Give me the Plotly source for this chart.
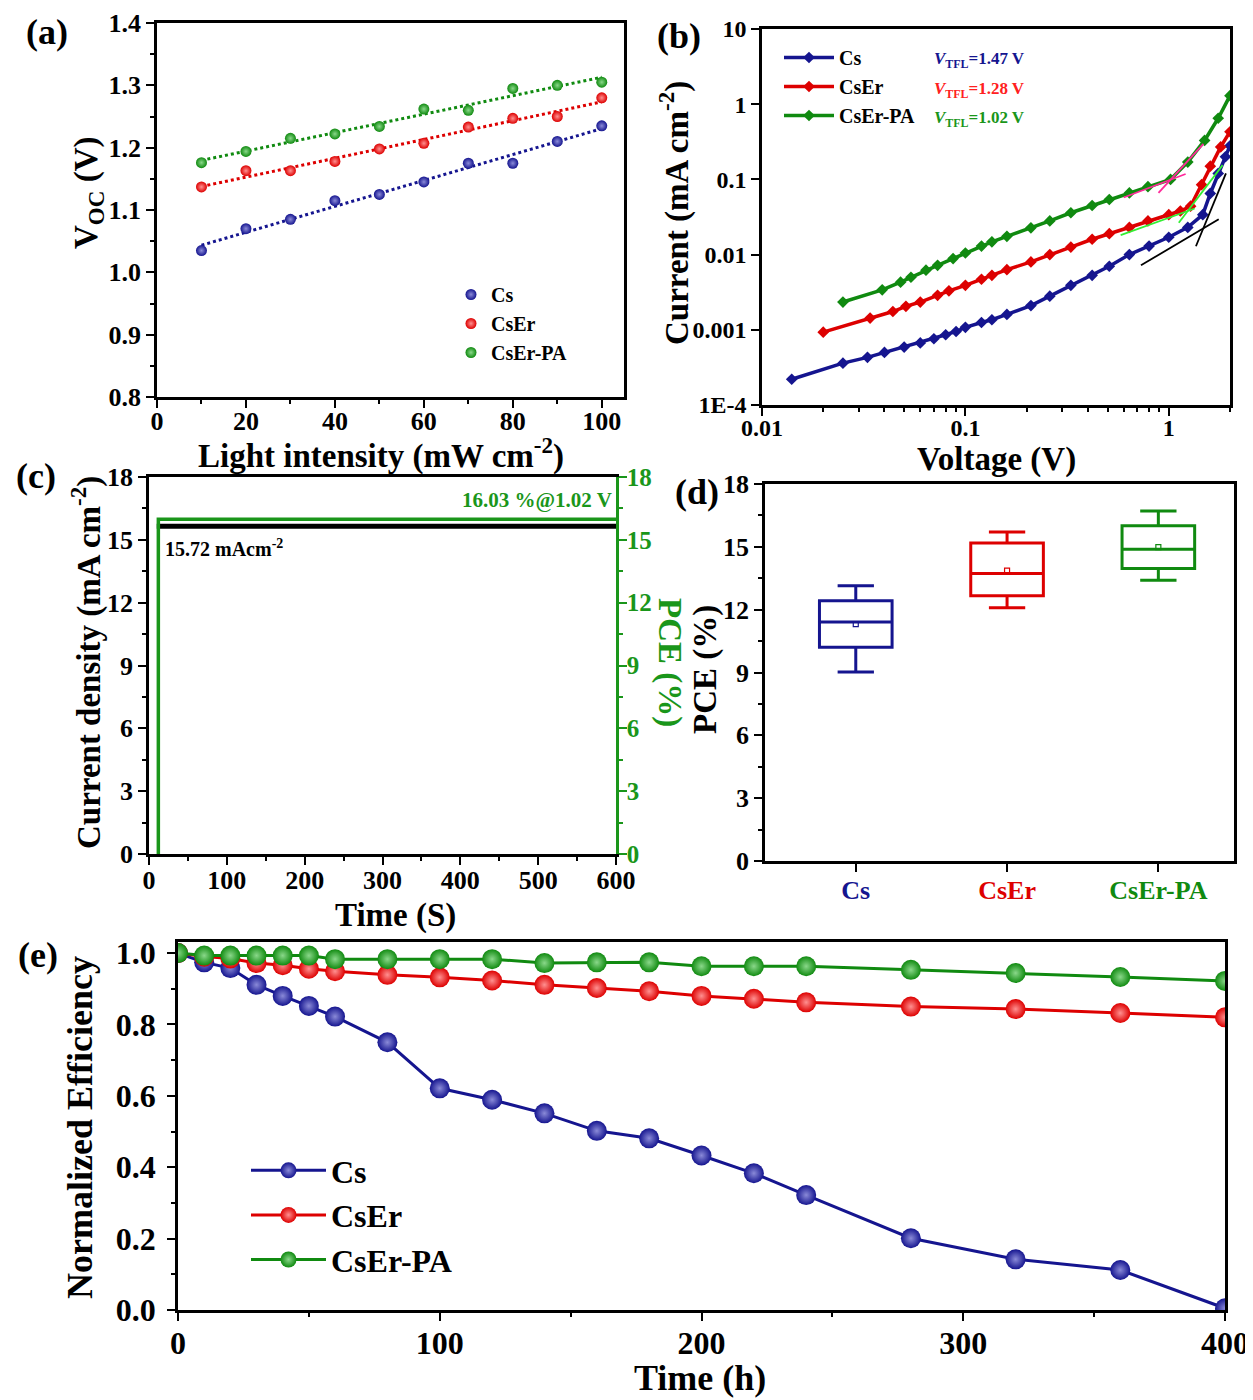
import numpy as np
import plotly.graph_objects as go

FONT = "Liberation Serif"
BLUE = "#15158f"
RED = "#dd0000"
GREEN = "#108a10"
BLUE_L = "#8a8ad8"
RED_L = "#ff9090"
GREEN_L = "#8ad88a"
PCE_GREEN = "#1a961a"

# ---------------- (a) Voc vs light intensity ----------------
intensity = [10, 20, 30, 40, 50, 60, 70, 80, 90, 100]
voc_cs = [1.035, 1.070, 1.085, 1.115, 1.125, 1.145, 1.175, 1.175, 1.210, 1.235]
voc_cser = [1.137, 1.163, 1.163, 1.178, 1.198, 1.207, 1.233, 1.247, 1.250, 1.280]
voc_cserpa = [1.176, 1.194, 1.215, 1.222, 1.234, 1.262, 1.260, 1.295, 1.300, 1.305]

# ---------------- (b) SCLC curves ----------------
v_cs = [0.014, 0.025, 0.033, 0.040, 0.050, 0.060, 0.070, 0.080, 0.090, 0.100,
        0.120, 0.135, 0.160, 0.210, 0.260, 0.330, 0.420, 0.510, 0.640, 0.800,
        1.000, 1.240, 1.470, 1.600, 1.750, 1.900, 2.000]
j_cs = [2.2e-4, 3.6e-4, 4.3e-4, 5.0e-4, 5.9e-4, 6.7e-4, 7.6e-4, 8.6e-4, 9.5e-4, 1.08e-3,
        1.25e-3, 1.36e-3, 1.6e-3, 2.1e-3, 2.8e-3, 3.9e-3, 5.3e-3, 7.0e-3, 1.0e-2, 1.3e-2,
        1.7e-2, 2.3e-2, 3.4e-2, 6.5e-2, 0.12, 0.20, 0.28]
v_cser = [0.020, 0.034, 0.044, 0.051, 0.060, 0.073, 0.083, 0.100, 0.120, 0.135,
          0.160, 0.210, 0.260, 0.330, 0.420, 0.510, 0.640, 0.790, 1.000, 1.140,
          1.280, 1.450, 1.600, 1.800, 2.000]
j_cser = [9.3e-4, 1.43e-3, 1.75e-3, 2.05e-3, 2.34e-3, 2.87e-3, 3.3e-3, 3.9e-3, 4.7e-3, 5.3e-3,
          6.3e-3, 8.0e-3, 1.0e-2, 1.26e-2, 1.6e-2, 1.9e-2, 2.3e-2, 2.8e-2, 3.4e-2, 3.8e-2,
          4.4e-2, 8.5e-2, 0.15, 0.27, 0.43]
v_cserpa = [0.025, 0.039, 0.048, 0.054, 0.064, 0.073, 0.087, 0.100, 0.120, 0.135,
            0.160, 0.210, 0.260, 0.330, 0.420, 0.510, 0.640, 0.790, 1.020, 1.240,
            1.500, 1.750, 2.000]
j_cserpa = [2.34e-3, 3.4e-3, 4.3e-3, 5.0e-3, 6.2e-3, 7.2e-3, 8.85e-3, 1.05e-2, 1.3e-2, 1.48e-2,
            1.75e-2, 2.27e-2, 2.8e-2, 3.6e-2, 4.5e-2, 5.4e-2, 6.6e-2, 8.0e-2, 0.10, 0.17,
            0.33, 0.65, 1.30]
# tangent lines (ohmic / trap-filling regions)
tan_cs_1_v = [0.73, 1.76]
tan_cs_1_j = [7.2e-3, 2.96e-2]
tan_cs_2_v = [1.36, 1.91]
tan_cs_2_j = [1.29e-2, 0.12]
tan_cser_1_v = [0.58, 1.34]
tan_cser_1_j = [1.81e-2, 4.1e-2]
tan_cser_2_v = [1.12, 1.84]
tan_cser_2_j = [2.65e-2, 0.155]
tan_pa_1_v = [0.60, 1.21]
tan_pa_1_j = [5.75e-2, 0.118]
tan_pa_2_v = [0.89, 1.48]
tan_pa_2_j = [6.6e-2, 0.296]
vtfl_labels = ["1.47", "1.28", "1.02"]

# ---------------- (c) steady-state output ----------------
time_j = [10, 600]
jsc = [15.65, 15.65]
time_pce = [12, 12, 600]
pce_out = [0, 15.98, 15.98]

# ---------------- (d) PCE statistics ----------------
devices = ["Cs", "CsEr", "CsEr-PA"]
pce_low = [9.02, 12.09, 13.40]
pce_q1 = [10.20, 12.67, 13.97]
pce_med = [11.41, 13.73, 14.89]
pce_q3 = [12.43, 15.18, 16.01]
pce_high = [13.14, 15.71, 16.71]
pce_mean = [11.31, 13.86, 14.99]

# ---------------- (e) stability ----------------
t_hours = [0, 10, 20, 30, 40, 50, 60, 80, 100, 120, 140, 160, 180, 200, 220, 240, 280, 320, 360, 400]
eff_cs = [1.0, 0.974, 0.958, 0.911, 0.880, 0.852, 0.822, 0.750, 0.621, 0.589, 0.551, 0.502,
          0.481, 0.433, 0.383, 0.322, 0.201, 0.142, 0.112, 0.005]
eff_cser = [1.0, 0.99, 0.985, 0.972, 0.966, 0.956, 0.949, 0.939, 0.932, 0.923, 0.911, 0.902,
            0.893, 0.880, 0.872, 0.862, 0.850, 0.843, 0.832, 0.820]
eff_cserpa = [1.0, 0.993, 0.993, 0.993, 0.993, 0.993, 0.983, 0.983, 0.983, 0.983, 0.972, 0.974,
              0.974, 0.963, 0.963, 0.963, 0.953, 0.944, 0.933, 0.922]

names = ["Cs", "CsEr", "CsEr-PA"]
colors = [BLUE, RED, GREEN]
lights = [BLUE_L, RED_L, GREEN_L]

fig = go.Figure()

# (a)
for nm, vals, c, cl in zip(names, [voc_cs, voc_cser, voc_cserpa], colors, lights):
    k, b0 = np.polyfit(intensity, vals, 1)
    xf = [intensity[0], intensity[-1]]
    fig.add_trace(go.Scatter(x=xf, y=[k * xf[0] + b0, k * xf[1] + b0], mode="lines",
                             line=dict(color=c, width=3, dash="dot"), showlegend=False,
                             xaxis="x", yaxis="y"))
    fig.add_trace(go.Scatter(x=intensity, y=vals, mode="markers", name=nm,
                             marker=dict(color=c, size=11, gradient=dict(type="radial", color=cl)),
                             xaxis="x", yaxis="y", legend="legend"))

# (b)
for nm, vv, jj, c in zip(names, [v_cs, v_cser, v_cserpa], [j_cs, j_cser, j_cserpa], colors):
    fig.add_trace(go.Scatter(x=vv, y=jj, mode="lines+markers", name=nm,
                             line=dict(color=c, width=3.5),
                             marker=dict(symbol="diamond", size=9, color=c),
                             xaxis="x2", yaxis="y2", legend="legend2"))
for vx, jy, c in [(tan_cs_1_v, tan_cs_1_j, "black"), (tan_cs_2_v, tan_cs_2_j, "black"),
                  (tan_cser_1_v, tan_cser_1_j, "#33ee33"), (tan_cser_2_v, tan_cser_2_j, "#33ee33"),
                  (tan_pa_1_v, tan_pa_1_j, "#ff2a9a"), (tan_pa_2_v, tan_pa_2_j, "#ff2a9a")]:
    fig.add_trace(go.Scatter(x=vx, y=jy, mode="lines", line=dict(color=c, width=1.8),
                             showlegend=False, xaxis="x2", yaxis="y2"))

# (c)
fig.add_trace(go.Scatter(x=time_j, y=jsc, mode="lines", line=dict(color="black", width=5),
                         showlegend=False, xaxis="x3", yaxis="y3"))
fig.add_trace(go.Scatter(x=time_pce, y=pce_out, mode="lines", line=dict(color=PCE_GREEN, width=3.5),
                         showlegend=False, xaxis="x3", yaxis="y6"))

# (d)
for i, (nm, c) in enumerate(zip(devices, colors)):
    fig.add_trace(go.Box(x=[nm], q1=[pce_q1[i]], median=[pce_med[i]], q3=[pce_q3[i]],
                         lowerfence=[pce_low[i]], upperfence=[pce_high[i]],
                         width=0.48, whiskerwidth=0.5, line=dict(color=c, width=3),
                         fillcolor="rgba(255,255,255,0)", showlegend=False,
                         boxpoints=False, xaxis="x4", yaxis="y4"))
    fig.add_trace(go.Scatter(x=[nm], y=[pce_mean[i]], mode="markers",
                             marker=dict(symbol="square-open", size=5, color=c, line=dict(width=1.2)),
                             showlegend=False, xaxis="x4", yaxis="y4"))

# (e)
for nm, vals, c, cl in zip(names, [eff_cs, eff_cser, eff_cserpa], colors, lights):
    fig.add_trace(go.Scatter(x=t_hours, y=vals, mode="lines+markers", name=nm,
                             line=dict(color=c, width=3),
                             marker=dict(color=c, size=20, gradient=dict(type="radial", color=cl)),
                             xaxis="x5", yaxis="y5", legend="legend3"))

# page has an 8px body margin: figure occupies 1245 x 1392 starting at (8, 8)
FW, FH = 1245, 1392

def W(px):
    return (px - 8) / FW

def H(py):
    return 1 - (py - 8) / FH

tickf = dict(family=FONT, size=26, color="black", weight="bold")
tickf_b = dict(family=FONT, size=24, color="black", weight="bold")
tickf_e = dict(family=FONT, size=32, color="black", weight="bold")
titf = dict(family=FONT, size=33, color="black", weight="bold")
titf_e = dict(family=FONT, size=36, color="black", weight="bold")

def ax(**kw):
    base = dict(showline=True, linecolor="black", linewidth=2.5, mirror=True,
                ticks="outside", ticklen=8, tickwidth=2, tickcolor="black", automargin=False,
                showgrid=False, zeroline=False, tickfont=tickf)
    base.update(kw)
    return base

minor = lambda d: dict(ticks="outside", ticklen=4, tickwidth=1.8, tickcolor="black", dtick=d)

fig.update_layout(
    template="none",
    width=FW, height=FH, margin=dict(l=0, r=0, t=0, b=0, autoexpand=False),
    paper_bgcolor="white", plot_bgcolor="white",
    font=dict(family=FONT, color="black", weight="bold"),
    # (a)
    xaxis=ax(domain=[W(157), W(624)], anchor="y", range=[0, 105], dtick=20, minor=minor(10),
             ticklabelstandoff=-9),
    yaxis=ax(domain=[H(397), H(23)], anchor="x", range=[0.8, 1.4], dtick=0.1, tickformat=".1f",
             minor=minor(0.05)),
    # (b)
    xaxis2=ax(domain=[W(762), W(1230)], anchor="y2", type="log", range=[-2, np.log10(2.0)],
              tickvals=[0.01, 0.1, 1], ticktext=["0.01", "0.1", "1"], minor=minor("D1"),
              tickfont=tickf_b, ticklabelstandoff=-9),
    yaxis2=ax(domain=[H(405), H(29)], anchor="x2", type="log", range=[-4, 1],
              tickvals=[1e-4, 1e-3, 1e-2, 0.1, 1, 10], tickfont=tickf_b,
              ticktext=["1E-4", "0.001", "0.01", "0.1", "1", "10"]),
    # (c)
    xaxis3=ax(domain=[W(149), W(616)], anchor="y3", range=[0, 600], dtick=100, minor=minor(50),
              ticklabelstandoff=-7),
    yaxis3=ax(domain=[H(854), H(477)], anchor="x3", range=[0, 18], dtick=3, mirror=False,
              minor=minor(1.5)),
    yaxis6=ax(overlaying="y3", anchor="x3", side="right", range=[0, 18], dtick=3, mirror=False,
              linecolor=PCE_GREEN, tickcolor=PCE_GREEN, ticklabelstandoff=-5,
              tickfont=dict(family=FONT, size=25, color=PCE_GREEN, weight="bold"),
              minor=dict(ticks="outside", ticklen=4, tickwidth=1.8, tickcolor=PCE_GREEN, dtick=1.5)),
    # (d)
    xaxis4=ax(domain=[W(765), W(1234)], anchor="y4", type="category", range=[-0.6, 2.5],
              tickvals=devices, ticklabelstandoff=-4,
              ticktext=['<span style="color:%s">%s</span>' % (c, d) for c, d in zip(colors, devices)]),
    yaxis4=ax(domain=[H(861), H(484)], anchor="x4", range=[0, 18], dtick=3, minor=minor(1.5)),
    # (e)
    xaxis5=ax(domain=[W(178), W(1225)], anchor="y5", range=[0, 400], dtick=100, minor=minor(50),
              tickfont=tickf_e, ticklabelstandoff=-5),
    yaxis5=ax(domain=[H(1310), H(942)], anchor="x5", range=[0, 1.031], dtick=0.2, tickformat=".1f",
              minor=minor(0.1), tickfont=tickf_e, ticklabelstandoff=5),
    legend=dict(x=W(451), y=H(275), xanchor="left", yanchor="top", bgcolor="rgba(0,0,0,0)",
                font=dict(family=FONT, size=20, color="black", weight="bold")),
    legend2=dict(x=W(779), y=H(38), xanchor="left", yanchor="top", bgcolor="rgba(0,0,0,0)",
                 itemwidth=50,
                 font=dict(family=FONT, size=20, color="black", weight="bold")),
    legend3=dict(x=W(246), y=H(1143), xanchor="left", yanchor="top", bgcolor="rgba(0,0,0,0)",
                 itemwidth=75,
                 font=dict(family=FONT, size=32, color="black", weight="bold")),
)

ann = []
def txt(text, x, y, font, angle=0, xa="center"):
    ann.append(dict(text=text, x=W(x), y=H(y), xref="paper", yref="paper", showarrow=False,
                    xanchor=xa, yanchor="middle", textangle=angle, font=font))

# panel labels
for t, x, y in [("(a)", 47, 32), ("(b)", 679, 36), ("(c)", 36, 476), ("(d)", 697, 492), ("(e)", 38, 955)]:
    txt(t, x, y, dict(family=FONT, size=36, color="black", weight="bold"))
# axis titles
txt("Light intensity (mW cm<sup>-2</sup>)", 381, 453, titf)
txt("V<sub>OC</sub> (V)", 88, 192, titf, -90)
txt("Voltage (V)", 996, 459, titf)
txt("Current (mA cm<sup>-2</sup>)", 674, 213, titf, -90)
txt("Time (S)", 395, 915, titf)
txt("Current density (mA cm<sup>-2</sup>)", 86, 663, titf, -90)
txt("PCE (%)", 705, 670, titf, -90)
txt("PCE (%)", 670, 662, dict(family=FONT, size=33, color=PCE_GREEN, weight="bold"), 90)
txt("Time (h)", 700, 1378, titf_e)
txt("Normalized Efficiency", 80, 1128, titf_e, -90)
# V_TFL notes
for lbl, c, y in zip(vtfl_labels, [BLUE, "#ff2020", PCE_GREEN], [60, 90, 119]):
    txt("<i>V</i><sub>TFL</sub>=%s V" % lbl, 932, y, dict(family=FONT, size=17, color=c, weight="bold"),
        xa="left")
ann.append(dict(text="16.03 %@1.02 V", x=598, y=16.9, xref="x3", yref="y3", showarrow=False,
                xanchor="right", yanchor="middle",
                font=dict(family=FONT, size=21, color=PCE_GREEN, weight="bold")))
ann.append(dict(text="15.72 mAcm<sup>-2</sup>", x=18, y=14.6, xref="x3", yref="y3", showarrow=False,
                xanchor="left", yanchor="middle",
                font=dict(family=FONT, size=20, color="black", weight="bold")))
fig.update_layout(annotations=ann)

fig.write_html("out.html")
